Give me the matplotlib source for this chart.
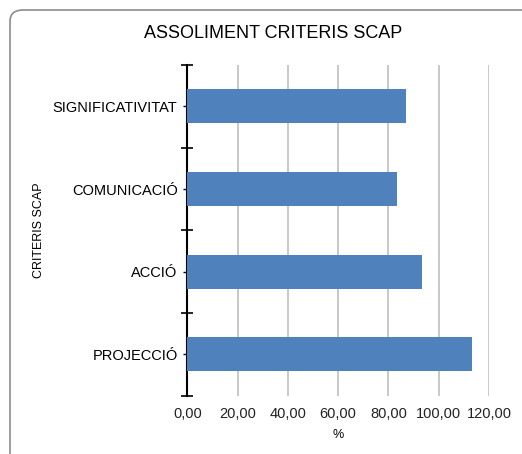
import numpy as np
import matplotlib.pyplot as plt
from matplotlib.patches import FancyBboxPatch
from matplotlib.ticker import FixedLocator, FuncFormatter

plt.rcParams['font.family'] = ['Liberation Sans', 'DejaVu Sans']

# data
categories = ['PROJECCIÓ', 'ACCIÓ', 'COMUNICACIÓ', 'SIGNIFICATIVITAT']
values = [113.2, 93.4, 83.4, 87.0]
x_ticks = [0, 20, 40, 60, 80, 100, 120]

fig = plt.figure(figsize=(5.22, 4.54), dpi=100)

# rounded chart border (cut at right/bottom like the reference)
border = FancyBboxPatch((10 / 522, -0.2), 1.2, 1.2 - 10 / 454,
                        boxstyle='round,pad=0,rounding_size=0.025',
                        transform=fig.transFigure, facecolor='none',
                        edgecolor='#8c8c8c', linewidth=1.2, clip_on=False)
fig.patches.append(border)

ax = fig.add_axes([187.3 / 522, 1 - 395.7 / 454, (489 - 187.3) / 522, (395.7 - 65) / 454])

y = np.arange(len(categories))
ax.barh(y, values, height=0.41, color='#4f81bd', zorder=3)

ax.set_xlim(0, 120)
ax.set_ylim(-0.5, len(categories) - 0.5)
ax.xaxis.set_major_locator(FixedLocator(x_ticks))
ax.xaxis.set_major_formatter(FuncFormatter(lambda v, p: f'{v:.2f}'.replace('.', ',')))
ax.grid(axis='x', color='#bfbfbf', linewidth=1.2, zorder=0)
ax.tick_params(axis='x', length=0, labelsize=10.5, pad=8, colors='#222222')

# category labels at centers, tick marks at boundaries
ax.set_yticks(y)
ax.set_yticklabels(categories)
ax.set_yticks(np.arange(-0.5, len(categories), 1), minor=True)
ax.tick_params(axis='y', which='major', direction='inout', length=6, width=1, labelsize=10.5, pad=4)
ax.tick_params(axis='y', which='minor', direction='inout', length=8, width=1.2)

for s in ['top', 'right', 'bottom']:
    ax.spines[s].set_visible(False)
ax.spines['left'].set_linewidth(1.5)
ax.spines['left'].set_color('black')

ax.set_xlabel('%', fontsize=9, labelpad=6)
ax.set_ylabel('CRITERIS SCAP', fontsize=9)
ax.yaxis.set_label_coords(-0.472, 0.5)

fig.text(273.5 / 522, 1 - 33 / 454, 'ASSOLIMENT CRITERIS SCAP',
         ha='center', va='center', fontsize=13)

fig.savefig('out.png', dpi=100)
